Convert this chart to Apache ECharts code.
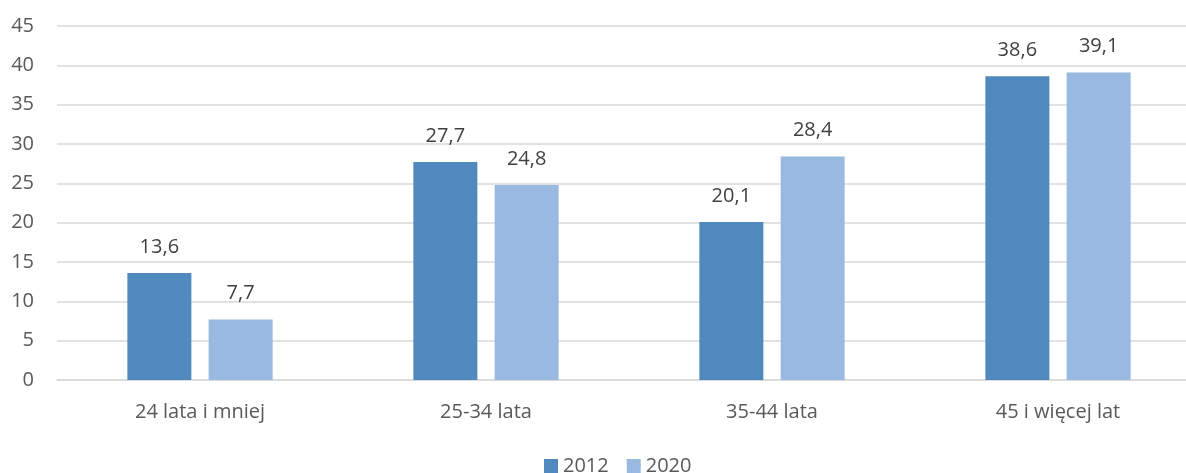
<!DOCTYPE html>
<html><head><meta charset="utf-8">
<script src="https://cdn.jsdelivr.net/npm/echarts@6/dist/echarts.min.js"></script>
<style>html,body{margin:0;padding:0;background:#fff}#c{width:1186px;height:473px}</style>
</head><body><div id="c"></div>
<script>
const categories = ['24 lata i mniej', '25-34 lata', '35-44 lata', '45 i więcej lat'];
const values2012 = [13.6, 27.7, 20.1, 38.6];
const values2020 = [7.7, 24.8, 28.4, 39.1];
const seriesNames = ['2012', '2020'];
const colors = ['#4F89BD', '#9AB9E0'];
const FONT = 'Open Sans';
const FS = 20;
const fmt = p => String(p.value).replace('.', ',');
const chart = echarts.init(document.getElementById('c'));
chart.setOption({
  animation: false,
  textStyle: {fontFamily: FONT},
  grid: {left: 57, width: 1144, top: 26, bottom: 93, containLabel: false, outerBoundsMode: 'none'},
  legend: {
    top: 451, left: 539, itemWidth: 14, itemHeight: 14, itemGap: 18,
    icon: 'rect',
    textStyle: {fontFamily: FONT, fontSize: FS, color: '#595959'},
    data: seriesNames
  },
  xAxis: {
    type: 'category', data: categories,
    axisLine: {lineStyle: {color: '#D9D9D9', width: 1.5}},
    axisTick: {show: false},
    axisLabel: {fontFamily: FONT, fontSize: FS, color: '#595959', margin: 22}
  },
  yAxis: {
    type: 'value', min: 0, max: 45, interval: 5,
    axisLine: {show: false}, axisTick: {show: false},
    splitLine: {lineStyle: {color: '#D9D9D9', width: 1.5}},
    axisLabel: {fontFamily: FONT, fontSize: FS, color: '#595959', margin: 23}
  },
  series: [
    {name: seriesNames[0], type: 'bar', data: values2012, barWidth: 64, barGap: '27%',
     itemStyle: {color: colors[0]},
     label: {show: true, position: 'top', distance: 16, formatter: fmt, fontFamily: FONT, fontSize: FS, color: '#404040'}},
    {name: seriesNames[1], type: 'bar', data: values2020, barWidth: 64,
     itemStyle: {color: colors[1]},
     label: {show: true, position: 'top', distance: 16, formatter: fmt, fontFamily: FONT, fontSize: FS, color: '#404040'}}
  ]
});
</script></body></html>
